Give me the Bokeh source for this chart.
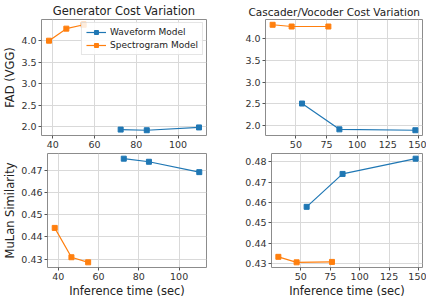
from bokeh.plotting import figure
from bokeh.layouts import column, row, Spacer
from bokeh.models import Range1d, SingleIntervalTicker, NumeralTickFormatter
from bokeh.embed import file_html
from bokeh.resources import INLINE

# ---- data ----
gen_wave_time = [72.5, 85, 110]
gen_spec_time = [38.2, 46.5, 54.8]
gen_wave_fad = [1.935, 1.92, 1.985]
gen_spec_fad = [4.0, 4.28, 4.37]
gen_wave_mulan = [0.4755, 0.4741, 0.4694]
gen_spec_mulan = [0.4441, 0.4308, 0.4285]

cas_wave_time = [55, 85.5, 147.5]
cas_spec_time = [31, 46.5, 76.5]
cas_wave_fad = [2.51, 1.92, 1.90]
cas_spec_fad = [4.31, 4.27, 4.27]
cas_wave_mulan = [0.4579, 0.4741, 0.4816]
cas_spec_mulan = [0.4333, 0.4306, 0.4308]

titles = ["Generator Cost Variation", "Cascader/Vocoder Cost Variation"]
x_label = "Inference time (sec)"
y_labels = ["FAD (VGG)", "MuLan Similarity"]
series_names = ["Waveform Model", "Spectrogram Model"]

BLUE = "#1f77b4"
ORANGE = "#ff7f0e"
FONT = "DejaVu Sans"


def padded(*arrs):
    vals = [v for a in arrs for v in a]
    lo, hi = min(vals), max(vals)
    d = (hi - lo) * 0.05
    return lo - d, hi + d


def make(width, height, xr, yr, xint, yint, yfmt, borders, title=None,
         xlabel=None, ylabel=None):
    p = figure(width=width, height=height, output_backend="svg",
               toolbar_location=None, x_range=Range1d(*xr), y_range=Range1d(*yr),
               min_border_left=borders[0], min_border_right=borders[1],
               min_border_top=borders[2], min_border_bottom=borders[3])
    p.background_fill_color = "white"
    p.border_fill_color = "white"
    p.outline_line_color = "#8c8c8c"
    p.outline_line_width = 1
    if title:
        p.title.text = title
        p.title.text_font = FONT
        p.title.text_font_size = "11.5px"
        p.title.text_font_style = "normal"
        p.title.text_color = "#222222"
        p.title.standoff = 3
    p.xaxis.ticker = SingleIntervalTicker(interval=xint, num_minor_ticks=0)
    p.yaxis.ticker = SingleIntervalTicker(interval=yint, num_minor_ticks=0)
    p.yaxis.formatter = NumeralTickFormatter(format=yfmt)
    for ax in (p.xaxis[0], p.yaxis[0]):
        ax.axis_line_color = None
        ax.major_tick_line_color = "#555555"
        ax.major_tick_out = 3
        ax.major_tick_in = 0
        ax.minor_tick_line_color = None
        ax.major_label_text_font = FONT
        ax.major_label_text_font_size = "9.5px"
        ax.major_label_text_color = "#333333"
        ax.major_label_standoff = 2
        ax.axis_label_text_font = FONT
        ax.axis_label_text_font_size = "11.5px"
        ax.axis_label_text_font_style = "normal"
        ax.axis_label_text_color = "#222222"
        ax.axis_label_standoff = 1
    if xlabel:
        p.xaxis.axis_label = xlabel
    if ylabel:
        p.yaxis.axis_label = ylabel
    p.grid.grid_line_color = "#d9d9d9"
    p.grid.grid_line_width = 1
    return p


def draw(p, xs, ys, color, label=None):
    kw = {"legend_label": label} if label else {}
    p.line(xs, ys, line_color=color, line_width=1.2, **kw)
    p.scatter(xs, ys, marker="square", size=5, fill_color=color,
              line_color=color, **kw)


xr_left = padded(gen_wave_time, gen_spec_time)
xr_right = padded(cas_wave_time, cas_spec_time)

W1, GAP, W2 = 226, 16, 184
H1, H2 = 150, 150

p1 = make(W1, H1, xr_left, padded(gen_wave_fad, gen_spec_fad), 20, 0.5, "0.0",
          (39, 20, 15, 10), title=titles[0], ylabel=y_labels[0])
p1.title.align = "center"
draw(p1, gen_wave_time, gen_wave_fad, BLUE, series_names[0])
draw(p1, gen_spec_time, gen_spec_fad, ORANGE, series_names[1])
leg = p1.legend[0]
leg.location = "top_right"
leg.label_text_font = FONT
leg.label_text_font_size = "9px"
leg.label_text_color = "#222222"
leg.glyph_width = 20
leg.glyph_height = 10
leg.label_height = 10
leg.label_standoff = 4
leg.spacing = 3
leg.padding = 4
leg.margin = 3
leg.border_line_color = "#cccccc"
leg.background_fill_alpha = 0.85

p2 = make(W2, H1, xr_right, padded(cas_wave_fad, cas_spec_fad), 25, 0.5, "0.0",
          (14, 4, 15, 10), title=titles[1])
p2.title.text_font_size = "10.5px"
p2.title.align = "left"
p2.title.offset = -17
draw(p2, cas_wave_time, cas_wave_fad, BLUE)
draw(p2, cas_spec_time, cas_spec_fad, ORANGE)

p3 = make(W1, H2, xr_left, padded(gen_wave_mulan, gen_spec_mulan), 20, 0.01, "0.00",
          (39, 20, 3, 20), xlabel=x_label, ylabel=y_labels[1])
draw(p3, gen_wave_time, gen_wave_mulan, BLUE)
draw(p3, gen_spec_time, gen_spec_mulan, ORANGE)

p4 = make(W2, H2, xr_right, padded(cas_wave_mulan, cas_spec_mulan), 25, 0.01, "0.00",
          (14, 4, 3, 20), xlabel=x_label)
draw(p4, cas_wave_time, cas_wave_mulan, BLUE)
draw(p4, cas_spec_time, cas_spec_mulan, ORANGE)

layout = column(row(p1, Spacer(width=GAP, height=H1), p2, spacing=0),
                row(p3, Spacer(width=GAP, height=H2), p4, spacing=0), spacing=0)

open("out.html", "w").write(file_html(layout, INLINE))
